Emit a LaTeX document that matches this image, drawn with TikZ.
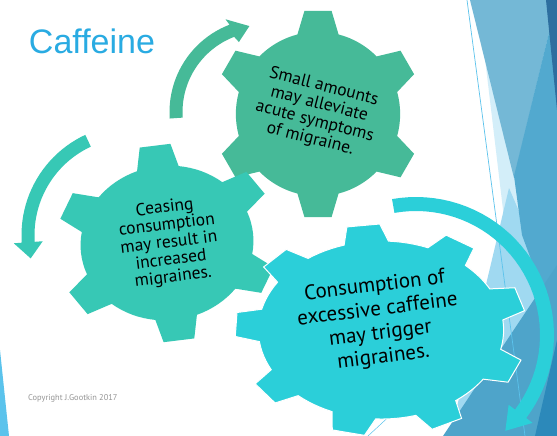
\documentclass[tikz,border=0pt]{standalone}
\usepackage{fontspec}
\setmainfont{PT Sans}
\newfontfamily\titlefont{Liberation Sans}
\usepackage{tikz}
\definecolor{gearone}{RGB}{70,186,152}
\definecolor{geartwo}{RGB}{55,200,181}
\definecolor{gearthree}{RGB}{43,207,217}
\definecolor{titleblue}{RGB}{41,171,226}
\definecolor{facetvl}{RGB}{211,238,249}
\definecolor{facetlb}{RGB}{160,217,241}
\definecolor{facetml}{RGB}{116,184,214}
\definecolor{facetmed}{RGB}{82,169,207}
\definecolor{facetmedb}{RGB}{78,164,202}
\definecolor{facetdark}{RGB}{44,137,186}
\definecolor{facetnavy}{RGB}{45,110,159}
\definecolor{facetline}{RGB}{91,195,236}

\begin{document}
\begin{tikzpicture}[x=1pt, y=-1pt,
  gearlabel/.style={align=center, text=black, inner sep=0pt},
  titletext/.style={text=titleblue, inner sep=0pt, font=\titlefont\fontsize{34}{34}\selectfont},
  copyright/.style={text=black!42, inner sep=0pt, font=\fontsize{8.4}{9}\selectfont}]

% Page
\fill[white] (0,0) rectangle (557,436);
\useasboundingbox (0,0) rectangle (557,436);

% Facets
\fill[facetvl] (478,0) -- (557,0) -- (557,436) -- (530,436) -- cycle;
\fill[facetlb] (509,188) -- (557,300) -- (557,436) -- (450,436) -- cycle;
\fill[facetml] (470,0) -- (557,0) -- (514,178) -- cycle;
\fill[facetmed] (557,0) -- (514,176) -- (522,235) -- (557,330) -- cycle;
\fill[facetmedb] (443,436) -- (557,265) -- (557,436) -- cycle;
\fill[facetdark] (535,436) -- (557,340) -- (557,436) -- cycle;
\fill[facetnavy] (546,0) -- (557,0) -- (557,110) -- cycle;
\draw[facetline, line width=0.7pt] (467,0) -- (525,436);
\draw[facetline, line width=0.5pt] (368,436) -- (450,360);
\fill[facetline] (0,350) -- (9,436) -- (0,436) -- cycle;

% Gears
\fill[gearone, shift={(318,114)}, scale=104]
  (224.5:0.79) \foreach \a in {270,330,...,570} {
    \foreach \t in {1,...,8} { -- ({\a-45.5+\t*31/8}:0.79) }
    -- ({\a-7.5}:1) -- ({\a+7.5}:1) -- ({\a+14.5}:0.79) } -- cycle;
\fill[geartwo, shift={(167,243)}, rotate=7, xscale=111, yscale=99]
  (224:0.78) \foreach \a in {270,330,...,570} {
    \foreach \t in {1,...,8} { -- ({\a-46+\t*32/8}:0.78) }
    -- ({\a-8}:1) -- ({\a+8}:1) -- ({\a+14}:0.78) } -- cycle;
\filldraw[gearthree, draw=white, line width=1pt, shift={(381,330)}, xscale=146, yscale=106]
  (-6.5:0.84) \foreach \a in {23,63,...,343} {
    \foreach \t in {1,...,6} { -- ({\a-29.5+\t*19/6}:0.84) }
    -- ({\a-6.5}:1) -- ({\a+6.5}:1) -- ({\a+10.5}:0.84) } -- cycle;

% Arrows
\fill[gearone, shift={(263,112)}]
  plot[domain=176:249, samples=25] (\x:93.5) -- (248:100) -- (261:87) -- (251:74)
  -- plot[domain=249:176, samples=25] (\x:80.5) -- cycle;
\fill[geartwo, shift={(132,235)}]
  plot[domain=245:176, samples=25] (\x:110.5) -- (176:118.5) -- (167:104) -- (176:89.5)
  -- plot[domain=176:245, samples=25] (\x:97.5) -- cycle;
\fill[gearthree, shift={(416,335)}]
  plot[domain=-100:37, samples=40] (\x:138) -- (37:146) -- (47:131) -- (37:116)
  -- plot[domain=37:-100, samples=40] (\x:124) -- cycle;

% Labels
\node[titletext] (title) at (92,41) {Caffeine};
\node[gearlabel, rotate=-14.5, font=\fontsize{17.5}{18}\selectfont] (small) at (317,113)
  {Small amounts\\may alleviate\\acute symptoms\\of migraine.};
\node[gearlabel, rotate=7, font=\fontsize{17.5}{17.5}\selectfont] (ceasing) at (169,243)
  {Ceasing\\consumption\\may result in\\increased\\migraines.};
\node[gearlabel, rotate=7, font=\fontsize{21}{24}\selectfont] (excess) at (379,322)
  {Consumption of\\excessive caffeine\\may trigger\\migraines.};
\node[copyright, anchor=west] (copy) at (28,398) {Copyright J.Gootkin 2017};
\end{tikzpicture}
\end{document}
